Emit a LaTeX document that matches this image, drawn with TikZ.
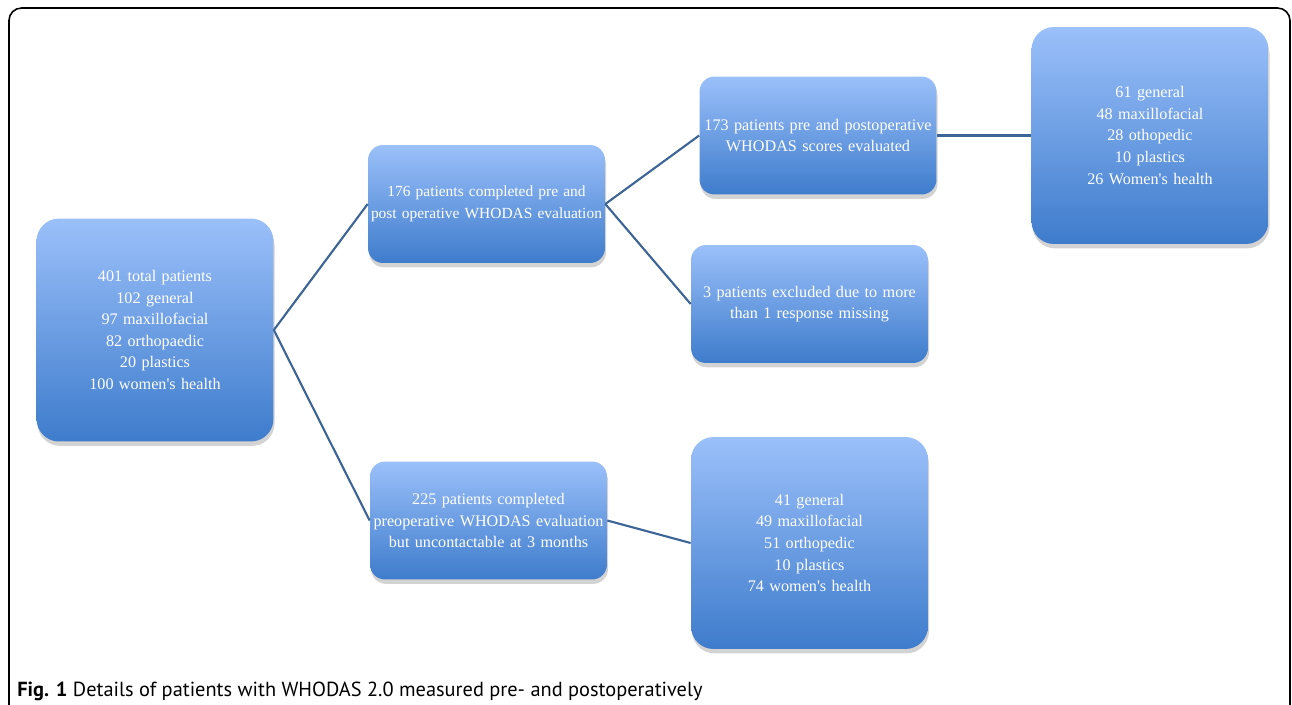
\documentclass[tikz,border=0pt]{standalone}
\usepackage{fontspec}
\setmainfont{Liberation Serif}
\newfontfamily\capfont{PT Sans}
\usetikzlibrary{shadows, positioning}

\definecolor{boxtop}{RGB}{155,192,250}
\definecolor{boxbot}{RGB}{62,124,204}
\definecolor{linkblue}{RGB}{60,100,150}

\begin{document}
\begin{tikzpicture}[x=0.02cm, y=-0.02cm,
    box/.style={rectangle, rounded corners=0.3cm, top color=boxtop, bottom color=boxbot,
        text=white, align=center, font=\fontsize{9.2}{12.3}\selectfont, inner sep=0pt,
        text width=4.74cm, minimum width=4.74cm, minimum height=2.36cm,
        drop shadow={shadow xshift=0.6pt, shadow yshift=-2.5pt, opacity=0.35}},
    tall/.style={box, rounded corners=0.45cm},
    link/.style={draw=linkblue, line width=1.2pt}]
    \useasboundingbox (0,0) rectangle (1292,704);

    % Outer frame
    \draw[line width=0.9pt, rounded corners=0.25cm] (9,8) rectangle (1290,722);

    % Define boxes
    \node[tall, minimum height=4.46cm] (total) at (155,330) {401 total patients\\102 general\\97 maxillofacial\\82 orthopaedic\\20 plastics\\100 women\textquotesingle s health};
    \node[box, font=\fontsize{8.8}{12.3}\selectfont] (both) at (486.5,204) {176 patients completed pre and\\post operative WHODAS evaluation};
    \node[box] (preonly) at (488.5,520.5) {225 patients completed\\preoperative WHODAS evaluation\\but uncontactable at 3 months};
    \node[box] (scored) at (818,135.5) {173 patients pre and postoperative\\WHODAS scores evaluated};
    \node[box] (excluded) at (809.5,304) {3 patients excluded due to more\\than 1 response missing};
    \node[tall, minimum height=4.34cm] (scoredsplit) at (1150,135.5) {61 general\\48 maxillofacial\\28 othopedic\\10 plastics\\26 Women\textquotesingle s health};
    \node[tall, minimum height=4.24cm] (preonlysplit) at (809.5,543) {41 general\\49 maxillofacial\\51 orthopedic\\10 plastics\\74 women\textquotesingle s health};

    % Draw connectors
    \draw[link] (total.east) -- (both.west);
    \draw[link] (total.east) -- (preonly.west);
    \draw[link] (both.east) -- (scored.west);
    \draw[link] (both.east) -- (excluded.west);
    \draw[link] (scored.east) -- (scoredsplit.west);
    \draw[link] (preonly.east) -- (preonlysplit.west);

    % Caption
    \node[anchor=base west, inner sep=0pt, font=\capfont\fontsize{11.6}{13}\selectfont] (caption) at (17,696)
        {\textbf{Fig. 1} Details of patients with WHODAS 2.0 measured pre- and postoperatively};
\end{tikzpicture}
\end{document}
